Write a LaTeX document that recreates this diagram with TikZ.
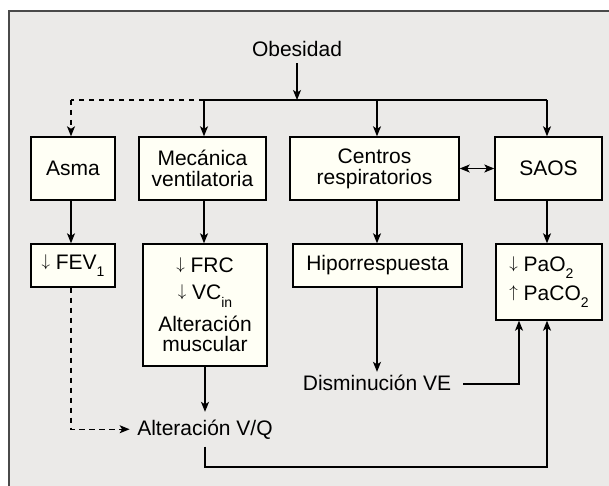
\documentclass[tikz,border=0pt]{standalone}
\usepackage{fontspec}
\usepackage{graphicx}
\setmainfont{Liberation Sans}
\usetikzlibrary{arrows.meta}
\definecolor{bggray}{HTML}{EBEAE8}
\definecolor{boxfill}{HTML}{FFFFF5}
\definecolor{framegray}{HTML}{4A4A4A}
\newcommand{\lowsub}[1]{\raisebox{-7.5pt}{\fontsize{14}{14}\selectfont #1}}
\newcommand{\diagfont}{\fontsize{21}{21}\selectfont}
\newcommand{\arrdn}{\raisebox{3.2pt}{\scalebox{0.82}{$\downarrow$}}}
\newcommand{\arrup}{\raisebox{3.2pt}{\scalebox{0.82}{$\uparrow$}}}
\begin{document}
\lineskiplimit=-50pt\relax
\begin{tikzpicture}[x=1pt,y=-1pt,
  font=\diagfont,
  box/.style={draw=black, line width=1.4pt, fill=boxfill, align=center, inner sep=0pt},
  lbl/.style={anchor=base},
  conn/.style={line width=1.1pt, draw=black},
  tip/.tip={Stealth[length=10pt,width=8pt,inset=2.5pt]},
  arr/.style={conn, -tip},
  dsh/.style={dash pattern=on 5.5pt off 4.5pt}]
\useasboundingbox (0,0) rectangle (609,486);
\fill[white] (0,0) rectangle (609,486);
\fill[bggray] (9,11) rectangle (609,486);
\draw[framegray, line width=1.8pt] (9,486) -- (9,11) -- (609,11);

% free labels
\node[lbl, inner sep=6.5pt] (obes) at (297,56.5) {Obesidad};
\node[lbl, inner ysep=2.5pt, inner xsep=12pt] (dism) at (377,390) {Disminución VE};
\node[lbl, inner sep=7.5pt] (vq) at (205,435) {Alteración V/Q};

% row 1
\node[box, minimum width=84pt, minimum height=63pt] (asma) at (73,168.5) {Asma};
\node[box, minimum width=127pt, minimum height=63pt] (mec) at (202.5,168.5) {Mecánica\\ventilatoria};
\node[box, minimum width=169pt, minimum height=63pt] (cen) at (374.5,168.5) {Centros\\respiratorios};
\node[box, minimum width=107pt, minimum height=63pt] (saos) at (548.5,168.5) {SAOS};

% row 2
\node[box, minimum width=84pt, minimum height=43pt] (fev) at (73,265.5) {\arrdn\ FEV\lowsub{1}};
\node[box, minimum width=124pt, minimum height=122pt] (frc) at (205,305)
  {\arrdn\ FRC\\[6pt]\arrdn\ VC\lowsub{in}\\[11pt]Alteración\\[-1pt]muscular};
\node[box, minimum width=169pt, minimum height=43pt] (hipo) at (377.5,265.5) {Hiporrespuesta};
\node[box, minimum width=106pt, minimum height=76pt, align=left] (pao) at (549,282)
  {\arrdn\ PaO\lowsub{2}\\[8pt]\arrup\ PaCO\lowsub{2}};

% column coordinates
\coordinate (j) at (297,100);
\coordinate (c1) at (71,100);
\coordinate (c2) at (204,100);
\coordinate (c3) at (377,100);
\coordinate (c4) at (547,100);
\coordinate (d1) at (519,384);
\coordinate (b) at (547,467);

% connectors
\draw[arr] (obes) -- (j);
\draw[conn] (c2) -- (c4);
\draw[conn, dsh] (c2) -- (c1);
\draw[arr, dsh] (c1) -- (c1 |- asma.north);
\draw[arr] (c2) -- (c2 |- mec.north);
\draw[arr] (c3) -- (c3 |- cen.north);
\draw[arr] (c4) -- (c4 |- saos.north);

\draw[arr] (c1 |- asma.south) -- (c1 |- fev.north);
\draw[arr] (c2 |- mec.south) -- (c2 |- frc.north);
\draw[arr] (c3 |- cen.south) -- (c3 |- hipo.north);
\draw[arr] (c4 |- saos.south) -- (c4 |- pao.north);

\draw[conn, tip-tip] (cen.east) -- (saos.west);

\draw[arr, dsh] (c1 |- fev.south) |- (vq.west);
\draw[arr] (frc.south) -- (vq.north);
\draw[arr] (c3 |- hipo.south) -- (c3 |- dism.north);
\draw[arr] (dism.east |- d1) -- (d1) -- (d1 |- pao.south);
\draw[arr] (vq.south) |- (b) -- (b |- pao.south);
\end{tikzpicture}
\end{document}
